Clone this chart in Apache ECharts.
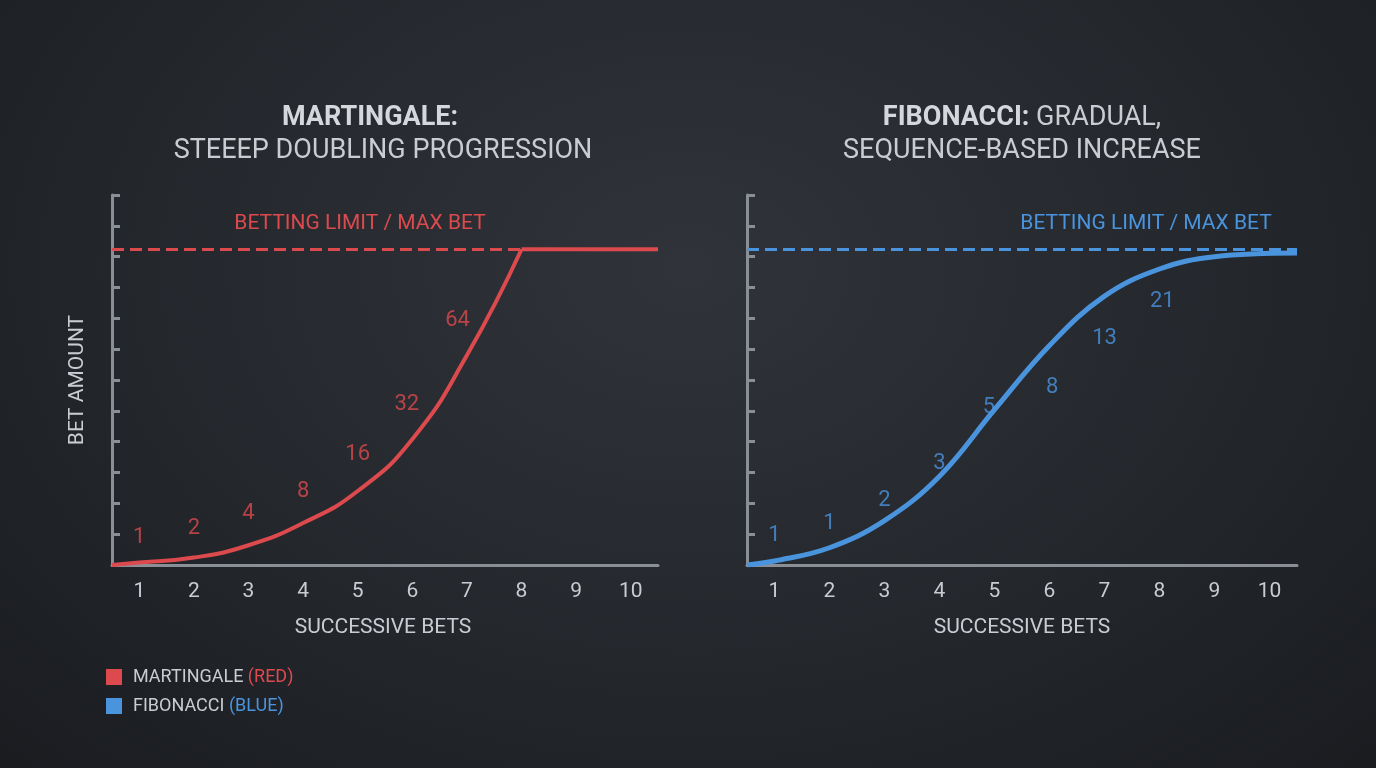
<!DOCTYPE html>
<html><head><meta charset="utf-8">
<script src="https://cdn.jsdelivr.net/npm/echarts@6/dist/echarts.min.js"></script>
<style>html,body{margin:0;padding:0;}body{width:1376px;height:768px;background:radial-gradient(ellipse at 50% 35%,#30343a 0%,#24272c 55%,#1a1c20 100%);}#c{width:1376px;height:768px;}</style>
</head><body><div id="c"></div>
<script>
const categories=['1','2','3','4','5','6','7','8','9','10'];
const limitValue=128;
const martX=[0.5,1,2,3,4,5,6,7,8];
const martY=[0,1,3,8,17,30,51,85,128];
const martFlatX=[8,10.5];
const martLabels=[[1,11,'1'],[2,15,'2'],[3,21,'4'],[4,30,'8'],[5,45,'16'],[5.9,65,'32'],[6.83,99,'64']];
const fibX=[0.5,1,2,3,4,5,6,7,8,9,10.5];
const fibY=[0,1.6,7,18,36,63,89,109,120,125,126.5];
const fibLabels=[[1,12,'1'],[2,17,'1'],[3,26,'2'],[4,41,'3'],[4.9,64,'5'],[6.05,72,'8'],[7,92,'13'],[8.05,107,'21']];
const RED='#dc4a4e', BLUE='#4a94de', AX='#8a8f96', TXT='#c9cdd2';
const ch=echarts.init(document.getElementById('c'));
const zip=(a,b)=>a.map((v,i)=>[v,b[i]]);
function grid(left,width){return {left:left,width:width,top:195,bottom:203};}
function xCat(g){return {type:'category',gridIndex:g,data:categories,boundaryGap:true,axisLine:{lineStyle:{color:AX,width:3}},axisTick:{show:false},axisLabel:{color:TXT,fontSize:21,margin:16,fontFamily:'Roboto'}};}
function xVal(g){return {type:'value',gridIndex:g,min:0.5,max:10.5,show:false};}
function yAx(g){return {type:'value',gridIndex:g,min:0,max:150,interval:12.5,axisLine:{show:true,lineStyle:{color:AX,width:3}},axisTick:{show:true,inside:true,length:8,lineStyle:{color:AX,width:3}},axisLabel:{show:false},splitLine:{show:false}};}
function labels(g,arr,color){return {type:'scatter',xAxisIndex:g*2+1,yAxisIndex:g,symbolSize:0,data:arr.map(d=>({value:[d[0],d[1]],label:{formatter:d[2]}})),label:{show:true,position:'inside',color:color,fontSize:22,fontFamily:'Roboto'},silent:true};}
function limit(g,color){return {type:'line',xAxisIndex:g*2+1,yAxisIndex:g,data:[],markLine:{silent:true,symbol:'none',lineStyle:{type:'dashed',color:color,width:3},label:{show:false},data:[[{coord:[0.5,limitValue]},{coord:[10.5,limitValue]}]]}};}
ch.setOption({
 backgroundColor:'transparent',
 grid:[grid(112,546),grid(747,550)],
 xAxis:[xCat(0),xVal(0),xCat(1),xVal(1)],
 yAxis:[yAx(0),yAx(1)],
 series:[
  limit(0,RED),limit(1,BLUE),
  {type:'line',xAxisIndex:1,yAxisIndex:0,data:zip(martX,martY),smooth:0.5,symbol:'none',lineStyle:{color:RED,width:4}},
  {type:'line',xAxisIndex:1,yAxisIndex:0,data:zip(martFlatX,[limitValue,limitValue]),symbol:'none',lineStyle:{color:RED,width:4}},
  {type:'line',xAxisIndex:3,yAxisIndex:1,data:zip(fibX,fibY),smooth:0.4,symbol:'none',lineStyle:{color:BLUE,width:5}},
  labels(0,martLabels,RED),labels(1,fibLabels,BLUE)
 ],
 graphic:[
  {type:'text',x:370,y:118,style:{text:'MARTINGALE:',fill:'#d4d7db',font:'bold 27px Roboto',align:'center',verticalAlign:'middle'}},
  {type:'text',x:383,y:151,style:{text:'STEEEP DOUBLING PROGRESSION',fill:TXT,font:'27px Roboto',align:'center',verticalAlign:'middle'}},
  {type:'text',x:1022,y:118,style:{text:'{b|FIBONACCI:}{n| GRADUAL,}',rich:{b:{fontWeight:'bold',fontSize:27,fontFamily:'Roboto',fill:'#d4d7db'},n:{fontSize:27,fontFamily:'Roboto',fill:TXT}},align:'center',verticalAlign:'middle'}},
  {type:'text',x:1022,y:151,style:{text:'SEQUENCE-BASED INCREASE',fill:TXT,font:'27px Roboto',align:'center',verticalAlign:'middle'}},
  {type:'text',x:360,y:224,style:{text:'BETTING LIMIT / MAX BET',fill:RED,font:'21px Roboto',align:'center',verticalAlign:'middle'}},
  {type:'text',x:1146,y:224,style:{text:'BETTING LIMIT / MAX BET',fill:BLUE,font:'21px Roboto',align:'center',verticalAlign:'middle'}},
  {type:'text',x:78,y:380,rotation:Math.PI/2,style:{text:'BET AMOUNT',fill:TXT,font:'21px Roboto',align:'center',verticalAlign:'middle'}},
  {type:'text',x:383,y:628,style:{text:'SUCCESSIVE BETS',fill:TXT,font:'21px Roboto',align:'center',verticalAlign:'middle'}},
  {type:'text',x:1022,y:628,style:{text:'SUCCESSIVE BETS',fill:TXT,font:'21px Roboto',align:'center',verticalAlign:'middle'}},
  {type:'rect',shape:{x:106,y:669,width:16,height:16},style:{fill:RED}},
  {type:'rect',shape:{x:106,y:698,width:16,height:16},style:{fill:BLUE}},
  {type:'text',x:133,y:677,style:{text:'{n|MARTINGALE }{r|(RED)}',rich:{n:{fill:TXT,fontSize:18,fontFamily:'Roboto'},r:{fill:RED,fontSize:18,fontFamily:'Roboto'}},verticalAlign:'middle'}},
  {type:'text',x:133,y:706,style:{text:'{n|FIBONACCI }{b|(BLUE)}',rich:{n:{fill:TXT,fontSize:18,fontFamily:'Roboto'},b:{fill:BLUE,fontSize:18,fontFamily:'Roboto'}},verticalAlign:'middle'}}
 ]
});
</script></body></html>
